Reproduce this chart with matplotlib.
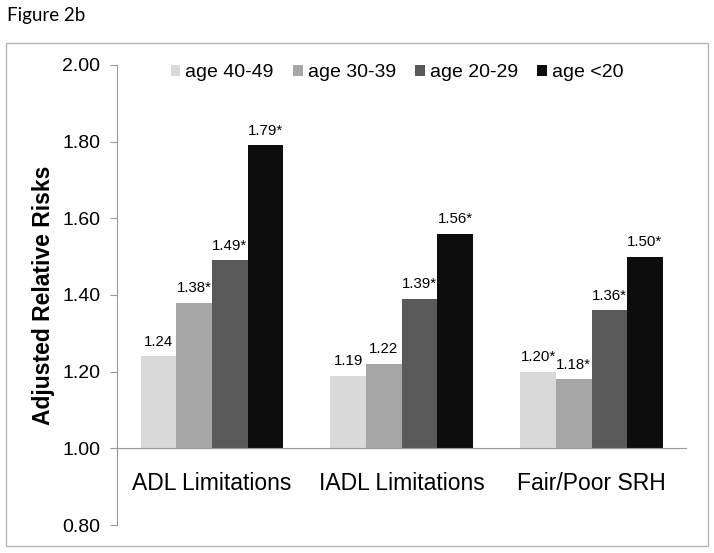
import numpy as np
import matplotlib
matplotlib.use("Agg")
import matplotlib.pyplot as plt
from matplotlib.patches import Rectangle

# Данные
categories = ["ADL Limitations", "IADL Limitations", "Fair/Poor SRH"]
age_groups = ["age 40-49", "age 30-39", "age 20-29", "age <20"]
rr_40_49 = [1.24, 1.19, 1.20]
rr_30_39 = [1.38, 1.22, 1.18]
rr_20_29 = [1.49, 1.39, 1.36]
rr_under20 = [1.79, 1.56, 1.50]
# значимость (звездочка у подписи)
sig_40_49 = [False, False, True]
sig_30_39 = [True, False, True]
sig_20_29 = [True, True, True]
sig_under20 = [True, True, True]

series = [rr_40_49, rr_30_39, rr_20_29, rr_under20]
stars = [sig_40_49, sig_30_39, sig_20_29, sig_under20]
colors = ["#d9d9d9", "#a6a6a6", "#595959", "#0d0d0d"]

plt.rcParams["font.family"] = ["Liberation Sans", "DejaVu Sans"]

fig = plt.figure(figsize=(7.14, 5.53), dpi=100)
ax = fig.add_axes([0.1639, 0.0506, 0.7975, 0.8319])

x = np.arange(len(categories))
w = 0.1877
base = 1.0

for i, (vals, sig) in enumerate(zip(series, stars)):
    pos = x + (i - 1.5) * w
    heights = [v - base for v in vals]
    ax.bar(pos, heights, w, bottom=base, color=colors[i], label=age_groups[i],
           linewidth=0)
    for p, v, s in zip(pos, vals, sig):
        txt = f"{v:.2f}" + ("*" if s else "")
        ax.annotate(txt, (p, v), xytext=(0, 5.5), textcoords="offset points",
                    ha="center", va="bottom", fontsize=10.8)

ax.set_xlim(-0.5, 2.5)
ax.set_ylim(0.8, 2.0)
ax.set_yticks(np.arange(0.8, 2.01, 0.2))
ax.set_yticklabels([f"{t:.2f}" for t in np.arange(0.8, 2.01, 0.2)])
ax.set_xticks(x)
ax.set_xticklabels(categories)

axis_col = "#999999"
for s in ["top", "right"]:
    ax.spines[s].set_visible(False)
ax.spines["left"].set_color(axis_col)
ax.spines["bottom"].set_color(axis_col)
ax.spines["bottom"].set_position(("data", 1.0))
ax.tick_params(axis="y", direction="out", length=5, color=axis_col,
               labelsize=14, pad=7)
ax.tick_params(axis="x", length=0, labelsize=16.5, pad=17)

fig.text(44 / 714, 1 - 295 / 553, "Adjusted Relative Risks", rotation=90,
         ha="center", va="center", fontsize=16.5, fontweight="bold")

fig.text(7 / 714, 1 - 20.7 / 553, "Figure 2b", ha="left", va="baseline",
         fontsize=13.5, family=["Lato", "DejaVu Sans"])

fig.legend(loc="center", bbox_to_anchor=(397 / 714, 1 - 72.5 / 553),
           ncol=4, frameon=False, fontsize=14, handlelength=0.5,
           handleheight=0.5, handletextpad=0.25, columnspacing=1.0)

# рамка вокруг диаграммы
fig.patches.append(Rectangle((6 / 714, 1 - 545.7 / 553), 701.7 / 714, 502.4 / 553,
                             transform=fig.transFigure, fill=False,
                             edgecolor="#b4b4b4", linewidth=1))

fig.savefig("out.png", dpi=100)
